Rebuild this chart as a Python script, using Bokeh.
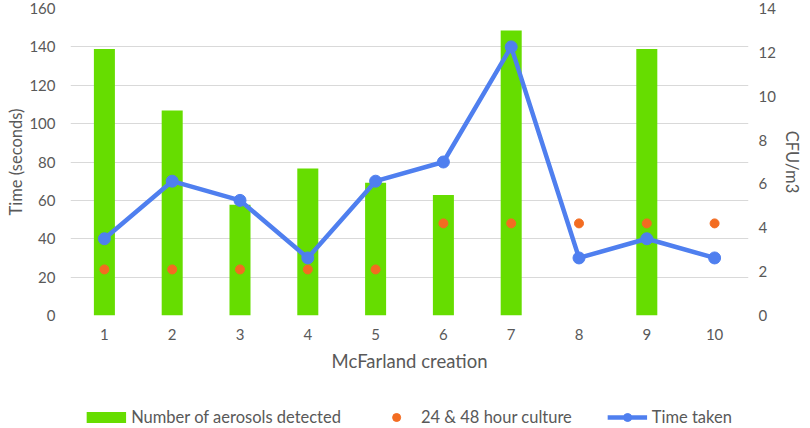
from bokeh.plotting import figure
from bokeh.layouts import column
from bokeh.models import Range1d, LinearAxis, FixedTicker, Legend, LegendItem, ColumnDataSource
from bokeh.embed import file_html
from bokeh.resources import INLINE

# Data
creations = [1, 2, 3, 4, 5, 6, 7, 8, 9, 10]
tick_labels = ["1", "2", "3", "4", "5", "6", "7", "8", "9", "10"]
aerosols_cfu = [12.15, 9.35, 5.05, 6.7, 6.05, 5.5, 13.0, 0, 12.15, 0]
culture_hours = [24, 24, 24, 24, 24, 48, 48, 48, 48, 48]
time_taken = [40, 70, 60, 30, 70, 80, 140, 30, 40, 30]

FONT = "Lato"
TXT = "#595959"
GREEN = "#66DD00"
ORANGE = "#F36C21"
BLUE = "#4F7FEF"

p = figure(width=810, height=385, output_backend="svg", toolbar_location=None,
           x_range=Range1d(0.5, 10.5), y_range=Range1d(0, 160),
           min_border_left=70, min_border_right=62, min_border_top=8, min_border_bottom=70)
p.outline_line_color = None
p.extra_y_ranges = {"right": Range1d(0, 14)}

src = ColumnDataSource(dict(x=creations, bar=aerosols_cfu, cult=culture_hours, t=time_taken))

bars = p.vbar(x="x", top="bar", width=0.31, source=src, fill_color=GREEN, line_color=None,
              y_range_name="right")
dots = p.scatter(x="x", y="cult", source=src, size=9, color=ORANGE)
ln = p.line(x="x", y="t", source=src, line_color=BLUE, line_width=4.5)
mk = p.scatter(x="x", y="t", source=src, size=12, color=BLUE)

# grid
p.xgrid.visible = False
p.ygrid.ticker = FixedTicker(ticks=list(range(0, 161, 20)))
p.ygrid.grid_line_color = "#D9D9D9"
p.ygrid.grid_line_width = 1

def style(ax):
    ax.axis_line_color = None
    ax.major_tick_line_color = None
    ax.minor_tick_line_color = None
    ax.major_tick_out = 0
    ax.major_tick_in = 0
    ax.major_label_text_font = FONT
    ax.major_label_text_font_size = "15px"
    ax.major_label_text_color = TXT
    ax.axis_label_text_font = FONT
    ax.axis_label_text_font_size = "16.5px"
    ax.axis_label_text_font_style = "normal"
    ax.axis_label_text_color = TXT

# x axis
xa = p.xaxis[0]
xa.ticker = FixedTicker(ticks=creations)
xa.major_label_overrides = {c: l for c, l in zip(creations, tick_labels)}
xa.axis_label = "McFarland creation"
style(xa)
xa.axis_label_text_font_size = "18.5px"
xa.major_label_standoff = 13
xa.axis_label_standoff = 7

# left axis
ya = p.yaxis[0]
ya.ticker = FixedTicker(ticks=list(range(0, 161, 20)))
ya.axis_label = "Time (seconds)"
style(ya)
ya.major_label_standoff = 15
ya.axis_label_standoff = 0

# right axis
ra = LinearAxis(y_range_name="right", ticker=FixedTicker(ticks=list(range(0, 15, 2))),
                axis_label="CFU/m3")
style(ra)
ra.major_label_standoff = 10
ra.axis_label_standoff = 3
p.add_layout(ra, "right")

# legend strip: a small figure whose ranges are far from the data, so only the legend shows
p2 = figure(width=810, height=43, output_backend="svg", toolbar_location=None,
            x_range=Range1d(1000, 1001), y_range=Range1d(1000, 1001),
            min_border_left=0, min_border_right=0, min_border_top=0, min_border_bottom=0)
p2.axis.visible = False
p2.grid.visible = False
p2.outline_line_color = None
lb = p2.line(x="x", y="bar", source=src, line_color=GREEN, line_width=11, line_cap="butt")
ld = p2.scatter(x="x", y="cult", source=src, size=9, color=ORANGE)
ll = p2.line(x="x", y="t", source=src, line_color=BLUE, line_width=4.5)
lm = p2.scatter(x="x", y="t", source=src, size=12, color=BLUE)

legend = Legend(items=[
    LegendItem(label="Number of aerosols detected", renderers=[lb]),
    LegendItem(label="24 & 48 hour culture", renderers=[ld]),
    LegendItem(label="Time taken", renderers=[ll, lm]),
], orientation="horizontal", location="bottom_center")
legend.label_text_font = FONT
legend.label_text_font_size = "16.5px"
legend.label_text_color = TXT
legend.glyph_width = 40
legend.glyph_height = 20
legend.label_standoff = 5
legend.spacing = 35
legend.padding = 0
legend.margin = 1
legend.border_line_color = None
legend.background_fill_alpha = 0
p2.add_layout(legend, "center")

layout = column(p, p2, spacing=0)
open("out.html", "w").write(file_html(layout, INLINE))
